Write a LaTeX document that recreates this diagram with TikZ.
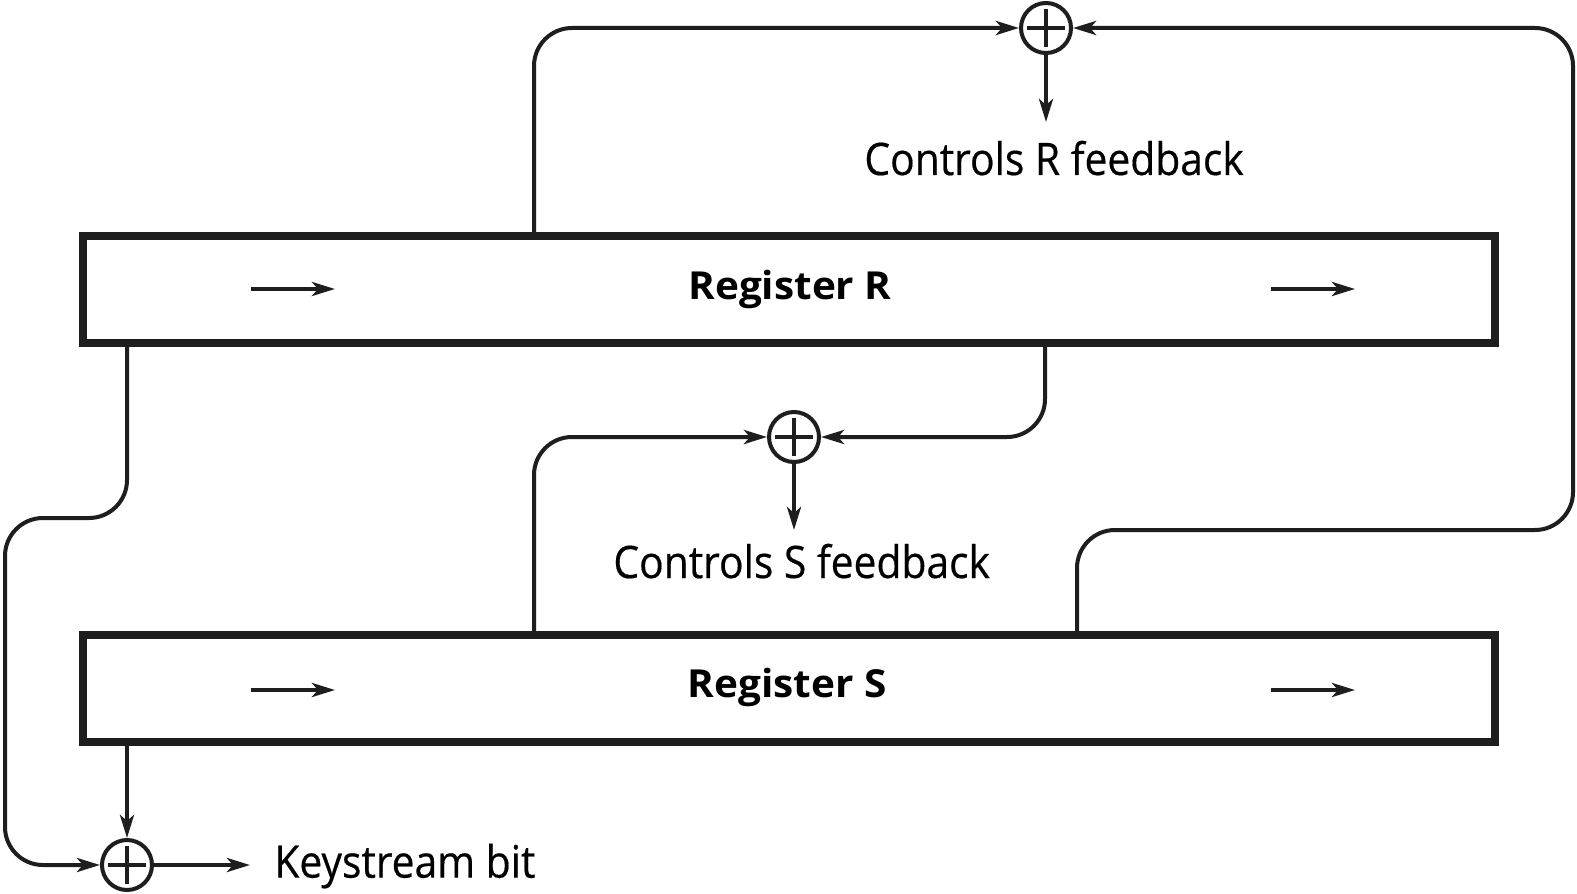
\documentclass[tikz,border=0pt]{standalone}
\usepackage{fontspec}
\setmainfont{Open Sans}
\newfontfamily\lblfont[FakeStretch=0.91,FakeBold=0.4]{Open Sans}
\newfontfamily\regfont[FakeStretch=1.05]{Open Sans}
\usetikzlibrary{arrows.meta,calc}
\definecolor{ink}{HTML}{1E1E1E}
\begin{document}
\begin{tikzpicture}[x=0.5pt,y=-0.5pt,
  conn/.style={draw=ink,line width=2pt,rounded corners=19pt},
  tip/.style={-{Stealth[length=11.5pt,width=7pt,inset=3pt]}},
  register/.style={draw=ink,line width=4pt,minimum width=706pt,minimum height=53.5pt,inner sep=0pt},
  xorop/.style={circle,draw=ink,line width=2pt,minimum size=25pt,inner sep=0pt,
    path picture={\draw[ink,line width=2pt]
      ([xshift=-9.5pt]path picture bounding box.center) -- ([xshift=9.5pt]path picture bounding box.center)
      ([yshift=-9.5pt]path picture bounding box.center) -- ([yshift=9.5pt]path picture bounding box.center);}},
  lbl/.style={font=\lblfont\fontsize{22.4pt}{26pt}\selectfont,inner sep=0pt,text=black},
  regl/.style={font=\regfont\bfseries\fontsize{19.3pt}{22pt}\selectfont,inner sep=0pt,text=black}]
\useasboundingbox[fill=white] (0,0) rectangle (1577,893);

% registers
\node[register] (regR) at (789,289.5) {};
\node[register] (regS) at (789,688.5) {};
\node[regl,anchor=base] (regRt) at (790,299) {Register R};
\node[regl,anchor=base] (regSt) at (787,697) {Register S};

% xor nodes
\node[xorop] (xorT) at (1046,28) {};
\node[xorop] (xorM) at (794,437) {};
\node[xorop] (xorB) at (127,865) {};

% column / corner coordinates
\coordinate (xA) at (534,0);
\coordinate (xC) at (1045,0);
\coordinate (cD) at (1077,530);
\coordinate (cRt) at (1573,530);
\coordinate (lb1) at (127,518);
\coordinate (lb2) at (5,518);
\coordinate (outT) at (1046,122);
\coordinate (outM) at (794,530);
\coordinate (outB) at (250,865);

% connectors
\draw[conn,tip] (regR.north -| xA) |- (xorT.west);
\draw[conn,tip] (regS.north -| cD) -- (cD) -- (cRt) -- (cRt |- xorT) -- (xorT.east);
\draw[conn,tip] (xorT.south) -- (outT);
\draw[conn,tip] (regR.south -| xC) |- (xorM.east);
\draw[conn,tip] (regS.north -| xA) |- (xorM.west);
\draw[conn,tip] (xorM.south) -- (outM);
\draw[conn,tip] (regR.south -| lb1) -- (lb1) -- (lb2) -- (lb2 |- xorB) -- (xorB.west);
\draw[conn,tip] (regS.south -| xorB) -- (xorB.north);
\draw[conn,tip] (xorB.east) -- (outB);

% shift arrows inside registers
\coordinate (rA1) at (251,289); \coordinate (rA2) at (335,289);
\coordinate (rB1) at (1271,289); \coordinate (rB2) at (1355,289);
\coordinate (sA1) at (251,690); \coordinate (sA2) at (335,690);
\coordinate (sB1) at (1271,690); \coordinate (sB2) at (1355,690);
\draw[conn,tip] (rA1) -- (rA2);
\draw[conn,tip] (rB1) -- (rB2);
\draw[conn,tip] (sA1) -- (sA2);
\draw[conn,tip] (sB1) -- (sB2);

% labels
\node[lbl,anchor=base west] (labR) at (864,175) {Controls R feedback};
\node[lbl,anchor=base west] (labS) at (613,578) {Controls S feedback};
\node[lbl,anchor=west] (labK) at (274,866) {Keystream bit};
\end{tikzpicture}
\end{document}
